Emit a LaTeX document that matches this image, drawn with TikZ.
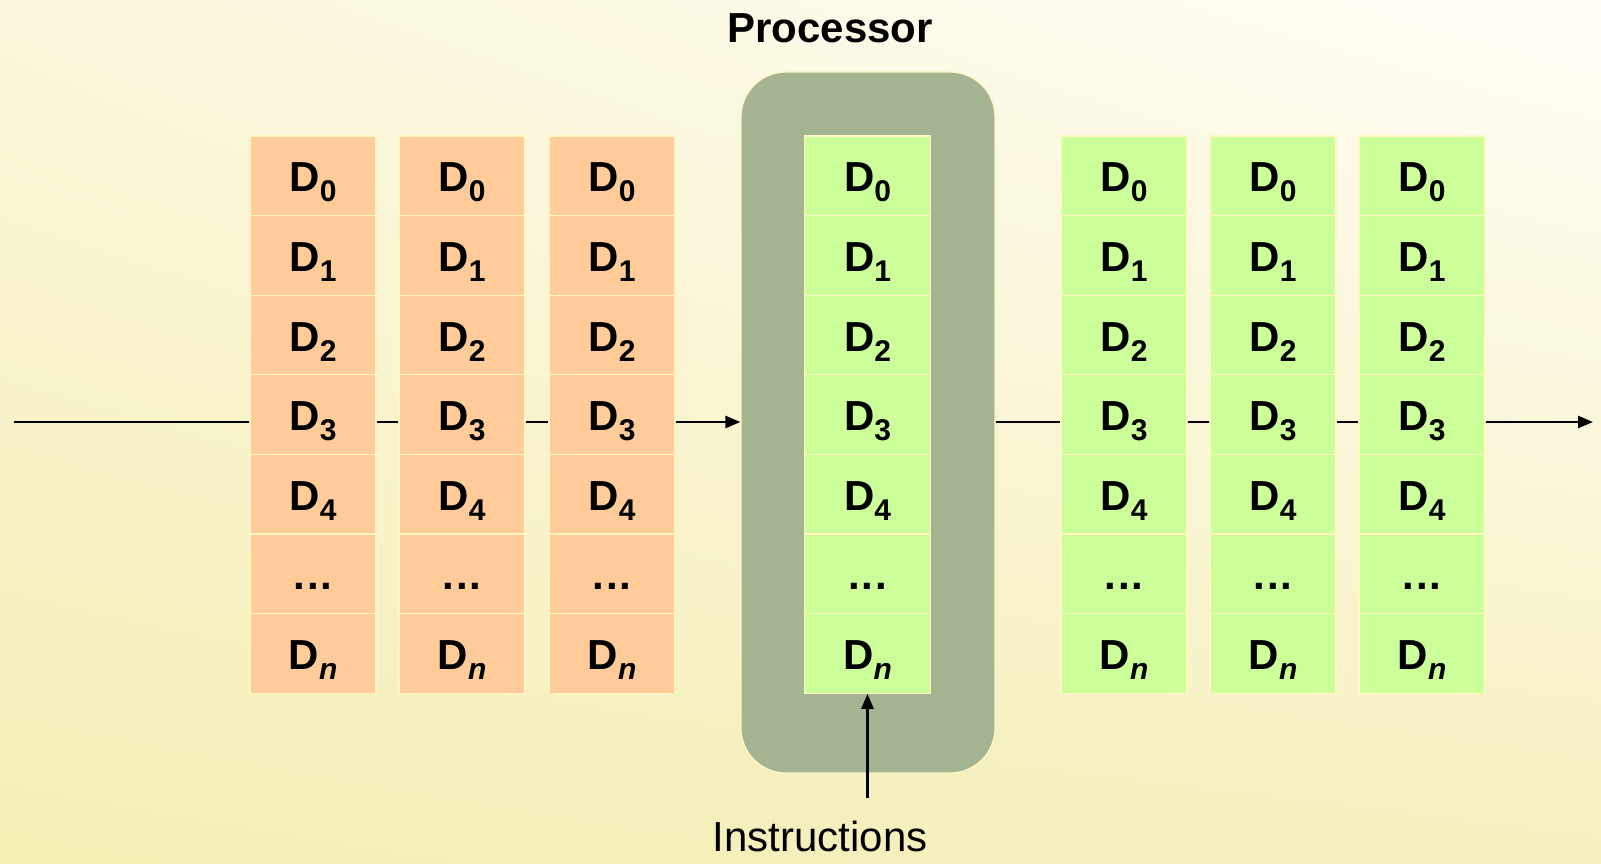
\documentclass[tikz,border=0pt]{standalone}
\usepackage{fontspec}
\setmainfont{Liberation Sans}
\usetikzlibrary{arrows.meta,calc,shadings}
\definecolor{peach}{HTML}{FFCC99}
\definecolor{lime}{HTML}{CCFF99}
\definecolor{procfill}{HTML}{A5B490}
\definecolor{edgecol}{HTML}{FFF6C4}
\definecolor{bgA}{HTML}{F4EEB4}
\definecolor{bgB}{HTML}{FAF6DA}
\definecolor{bgC}{HTML}{FFFDF6}
\definecolor{bgD}{HTML}{F6F0C0}
\newcommand{\dsub}[1]{D\raisebox{-10pt}{\fontsize{30}{32}\selectfont #1}}
\newcommand{\celldots}{.\kern2pt.\kern2pt.}
\begin{document}
\begin{tikzpicture}[x=1pt,y=-1pt,
  cell/.style={rectangle, minimum width=126pt, minimum height=79.6pt, draw=edgecol, line width=1.2pt,
    inner sep=0pt, text height=40pt, text depth=8pt, font=\fontsize{42}{50}\selectfont\bfseries},
  incell/.style={cell, fill=peach},
  outcell/.style={cell, fill=lime},
  link/.style={line width=2.6pt, black},
  arr/.style={link, -{Triangle[length=15pt,width=12pt]}},
  lbl/.style={font=\fontsize{42}{50}\selectfont, inner sep=0pt}]
\useasboundingbox (0,0) rectangle (1601,864);
\shade[shading=bilinear interpolation, lower left=bgA, upper left=bgB, upper right=bgC, lower right=bgD] (0,864) rectangle (1601,0);
% processor
\node[rectangle, rounded corners=45pt, minimum width=254pt, minimum height=701pt, fill=procfill, draw=edgecol, line width=1.2pt] (proc) at (868,422.5) {};
\node[lbl, font=\fontsize{42}{50}\selectfont\bfseries] (proclbl) at (830,28) {Processor};
% columns
\foreach \name/\x/\sty in {a/313/incell, b/462/incell, c/612/incell, p/867.5/outcell, d/1124/outcell, e/1273/outcell, f/1422/outcell}{
  \foreach \i/\t in {1/\dsub{0}, 2/\dsub{1}, 3/\dsub{2}, 4/\dsub{3}, 5/\dsub{4}, 6/\celldots, 7/\dsub{\textit{n}}}{
    \node[\sty] (\name\i) at (\x, {136+39.8+79.6*(\i-1)}) {\t};
  }
}
% flow
\coordinate (start) at (14,422);
\coordinate (finish) at (1593,422);
\draw[link] (start) -- (a4.west |- start);
\draw[link] (a4.east |- start) -- (b4.west |- start);
\draw[link] (b4.east |- start) -- (c4.west |- start);
\draw[arr] (c4.east |- start) -- (proc.west |- start);
\draw[link] (proc.east |- start) -- (d4.west |- start);
\draw[link] (d4.east |- start) -- (e4.west |- start);
\draw[link] (e4.east |- start) -- (f4.west |- start);
\draw[arr] (f4.east |- start) -- (finish);
% instructions
\node[lbl] (instr) at (820,836) {Instructions};
\coordinate (instop) at (867.5,798);
\draw[arr] (instop) -- (p7.south);
\end{tikzpicture}
\end{document}
